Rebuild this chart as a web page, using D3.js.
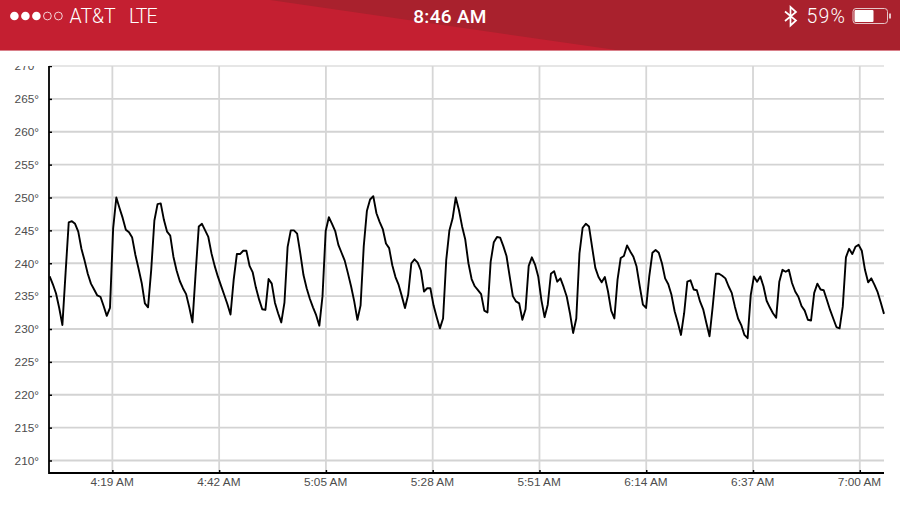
<!DOCTYPE html>
<html>
<head>
<meta charset="utf-8">
<style>
  html, body { margin: 0; padding: 0; background: #fff; }
  svg { display: block; }
  .tick-label { font-family: "Liberation Sans", sans-serif; font-size: 11.8px; fill: #4d4d4d; }
  .status { font-family: "Roboto", "Liberation Sans", sans-serif; fill: #fff; }
</style>
<script src="https://cdnjs.cloudflare.com/ajax/libs/d3/7.8.5/d3.min.js"></script>
</head>
<body>
<svg id="chart" width="900" height="507"></svg>
<script>
// degrees, one sample every 41 seconds
const temps = [
  238.0, 236.8, 235.4, 233.2, 230.6, 238.5, 246.2, 246.4, 246.0, 244.8,
  242.2, 240.4, 238.4, 236.9, 236.0, 235.1, 234.9, 233.5, 232.0, 233.2,
  245.3, 250.0, 248.4, 246.9, 245.1, 244.7, 243.9, 241.3, 239.2, 237.0,
  233.9, 233.3, 239.0, 246.5, 249.0, 249.1, 246.6, 244.8, 244.2, 241.0,
  238.9, 237.3, 236.2, 235.3, 233.3, 231.0, 238.5, 245.6, 246.0, 245.0,
  244.0, 241.5, 239.6, 238.0, 236.6, 235.2, 233.8, 232.2, 237.5, 241.4,
  241.4, 241.9, 241.9, 239.6, 238.6, 236.3, 234.5, 233.0, 232.9, 237.6,
  236.9, 234.0, 232.4, 231.0, 234.0, 242.5, 245.0, 245.0, 244.5, 241.5,
  238.2, 236.2, 234.6, 233.3, 232.1, 230.5, 235.0, 244.9, 247.0, 246.0,
  244.9, 242.8, 241.6, 240.4, 238.5, 236.5, 234.2, 231.4, 233.6, 242.6,
  248.0, 249.7, 250.2, 247.6, 246.3, 245.2, 243.0, 242.3, 239.7, 237.9,
  236.7, 235.0, 233.2, 235.2, 240.0, 240.6, 240.1, 238.9, 235.7, 236.2,
  236.2, 233.6, 231.8, 230.1, 231.6, 240.5, 245.0, 246.8, 250.0, 248.1,
  245.6, 243.6, 240.0, 237.6, 236.5, 235.9, 235.3, 232.8, 232.5, 240.2,
  243.2, 244.0, 243.9, 242.6, 241.1, 238.0, 235.0, 234.2, 233.9, 231.4,
  233.0, 239.6, 240.9, 239.8, 238.0, 234.4, 231.8, 233.7, 238.4, 238.8,
  237.2, 237.7, 236.4, 234.9, 232.4, 229.4, 231.6, 241.5, 245.4, 246.0,
  245.6, 242.4, 239.3, 237.9, 237.1, 237.9, 235.7, 232.8, 231.6, 237.5,
  240.8, 241.1, 242.7, 241.8, 241.0, 239.5, 236.5, 233.7, 233.2, 238.0,
  241.6, 242.0, 241.6, 240.0, 237.7, 236.8, 235.2, 232.7, 231.0, 229.1,
  232.4, 237.2, 237.4, 236.0, 235.9, 234.2, 233.0, 230.9, 228.9, 233.4,
  238.4, 238.4, 238.1, 237.7, 236.5, 235.5, 233.4, 231.6, 230.6, 229.1,
  228.6, 235.2, 238.0, 237.2, 238.0, 236.5, 234.3, 233.3, 232.4, 231.7,
  237.2, 239.0, 238.7, 239.0, 237.0, 235.7, 234.9, 233.5, 232.8, 231.4,
  231.3, 235.5, 236.9, 236.0, 235.9, 234.4, 232.9, 231.6, 230.3, 230.1,
  233.4, 240.9, 242.2, 241.4, 242.5, 242.8, 241.9, 239.0, 237.1, 237.7,
  236.7, 235.6, 234.0, 232.3
];
const yTicks = [210, 215, 220, 225, 230, 235, 240, 245, 250, 255, 260, 265, 270];
const xTickLabels = ["4:19", "4:42", "5:05", "5:28", "5:51", "6:14", "6:37", "7:00"];

const startTime = new Date(2016, 0, 1, 4, 5, 30);
const endTime = new Date(2016, 0, 1, 7, 5, 13);
const stepMs = 41000;
const parseTick = d3.timeParse("%Y-%m-%d %H:%M");
const xTicks = xTickLabels.map(t => parseTick("2016-01-01 " + t));

const svg = d3.select("#chart");

const margin = { top: 66, right: 16, bottom: 34, left: 49 };

const xScale = d3.scaleTime().domain([startTime, endTime]).range([margin.left + 0.7, 900 - margin.right]);
const yScale = d3.scaleLinear().domain([210, 270]).range([460.5, 66]);

// grid
const grid = svg.append("g");
grid.append("g").selectAll("line").data(yTicks).join("line")
  .attr("x1", margin.left).attr("x2", 900 - margin.right)
  .attr("y1", d => yScale(d)).attr("y2", d => yScale(d))
  .attr("stroke", d => d === 270 ? "#e6e6e6" : "#d3d3d3")
  .attr("stroke-width", 1.8);
grid.append("g").selectAll("line").data(xTicks).join("line")
  .attr("x1", d => xScale(d)).attr("x2", d => xScale(d))
  .attr("y1", margin.top).attr("y2", 507 - margin.bottom)
  .attr("stroke", "#d6d6d6")
  .attr("stroke-width", 1.8);

// the 270 label gets cut off under the header
svg.append("defs").append("clipPath").attr("id", "yclip")
  .append("rect").attr("x", -margin.left).attr("y", margin.top).attr("width", 900).attr("height", 507);

// axes
const yAxis = svg.append("g")
  .attr("transform", `translate(${margin.left},0)`)
  .attr("clip-path", "url(#yclip)")
  .call(d3.axisLeft(yScale).tickValues(yTicks).tickFormat(d => d + "°").tickSize(-3).tickPadding(10));
const xAxis = svg.append("g")
  .attr("transform", `translate(0,${507 - margin.bottom})`)
  .call(d3.axisBottom(xScale).tickValues(xTicks).tickFormat(d3.timeFormat("%-I:%M %p")).tickSize(-3).tickPadding(5));

[yAxis, xAxis].forEach(a => {
  a.attr("font-size", null).attr("font-family", null);
  a.selectAll(".domain").remove();
  a.selectAll(".tick line").attr("stroke", "#000").attr("stroke-width", 1.5);
  a.selectAll(".tick text").attr("class", "tick-label").attr("fill", null);
});
xAxis.selectAll(".tick text").attr("dx", -0.8);
svg.append("path")
  .attr("d", `M${margin.left},${margin.top}V${507 - margin.bottom}H${900 - margin.right}`)
  .attr("fill", "none")
  .attr("stroke", "#000")
  .attr("stroke-width", 1.8);

// temperature line
const line = d3.line()
  .x((d, i) => xScale(new Date(+startTime + i * stepMs)))
  .y(d => yScale(d));
svg.append("path")
  .datum(temps)
  .attr("d", line)
  .attr("fill", "none")
  .attr("stroke", "#000")
  .attr("stroke-width", 1.9)
  .attr("stroke-linejoin", "round");

// status bar
const bar = svg.append("g");
bar.append("rect").attr("width", 900).attr("height", 50).attr("fill", "#c41f31");
bar.append("path").attr("d", "M270,0L616,50H900V0Z").attr("fill", "#a9212d");
bar.append("rect").attr("y", 50).attr("width", 900).attr("height", 1).attr("fill", "#d9808a");

bar.append("g").selectAll("circle").data([1, 1, 1, 0, 0]).join("circle")
  .attr("cx", (d, i) => 14.4 + i * 11)
  .attr("cy", 16)
  .attr("r", d => d ? 4.3 : 3.9)
  .attr("fill", d => d ? "#fff" : "none")
  .attr("stroke", "#fff")
  .attr("stroke-width", d => d ? 0 : 0.8);
bar.append("text").attr("class", "status").attr("x", 69.5).attr("y", 23)
  .attr("font-size", 19.5).attr("font-weight", 300).text("AT&T");
bar.append("text").attr("class", "status").attr("x", 129).attr("y", 23)
  .attr("font-size", 19.5).attr("font-weight", 300).attr("letter-spacing", -0.9).text("LTE");
bar.append("text").attr("class", "status").attr("x", 450).attr("y", 23)
  .attr("text-anchor", "middle").attr("font-size", 19).attr("font-weight", 500).attr("letter-spacing", 0.3).text("8:46 AM");
bar.append("text").attr("class", "status").attr("x", 806.5).attr("y", 23)
  .attr("font-size", 19.5).attr("font-weight", 300).attr("letter-spacing", 1.2).text("59%");

// bluetooth glyph
bar.append("path")
  .attr("d", "M785,11.5L796,20.5L790.5,25.5V7L796,12L785,21")
  .attr("fill", "none").attr("stroke", "#fff").attr("stroke-width", 1.7);

// battery
bar.append("rect").attr("x", 853).attr("y", 8.5).attr("width", 34.5).attr("height", 15).attr("rx", 3)
  .attr("fill", "none").attr("stroke", "#e6c5c8").attr("stroke-width", 1);
bar.append("rect").attr("x", 854.5).attr("y", 10).attr("width", 19).attr("height", 12).attr("rx", 1)
  .attr("fill", "#fff");
bar.append("rect").attr("x", 889).attr("y", 13.5).attr("width", 2).attr("height", 5).attr("fill", "#e6c5c8");
</script>
</body>
</html>
